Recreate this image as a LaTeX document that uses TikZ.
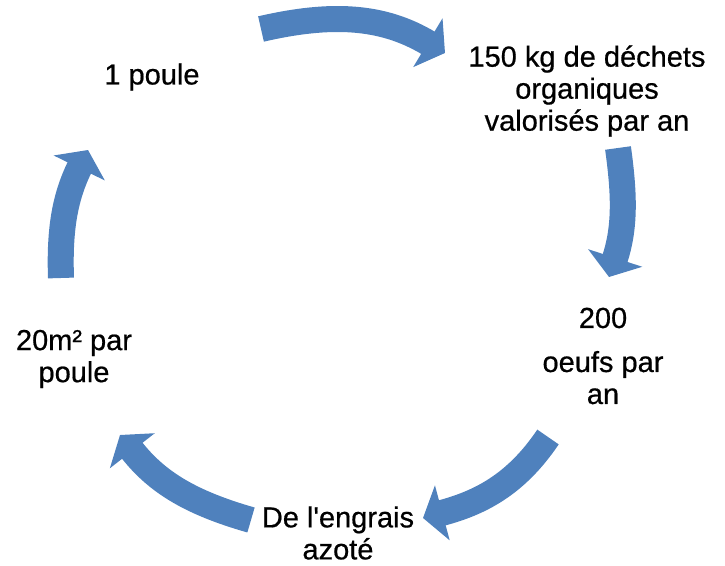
\documentclass[tikz,border=0pt]{standalone}
\usepackage{fontspec}
\setmainfont{Liberation Sans}[FakeBold=0.6]
\newfontfamily\stagefont{Liberation Sans}[FakeBold=0.6]
\usetikzlibrary{arrows.meta}
\definecolor{cycleblue}{RGB}{79,129,189}
\begin{document}
\begin{tikzpicture}[x=1pt,y=1pt,font=\stagefont\fontsize{29}{32}\selectfont,
        stagetext/.style={align=center,inner sep=0pt},
        cyclearrow/.style={line width=26pt,draw=cycleblue,-{Triangle[width=56pt,length=20pt,fill=cycleblue]}}]
        \useasboundingbox (0,0) rectangle (725,565);

        \node[stagetext] (poule) at (152,488) {1 poule};
        \node[stagetext] (dechets) at (587,474) {150 kg de déchets\\organiques\\valorisés par an};
        \node[stagetext] (oeufs) at (603,209) {200\\[12pt]oeufs par\\an};
        \node[stagetext] (engrais) at (338,32) {De l\textquotesingle engrais\\azoté};
        \node[stagetext] (surface) at (74,206) {20m² par\\poule};

        \coordinate (a1) at (261,536);  \coordinate (b1) at (445,512);
        \coordinate (a2) at (618,417);  \coordinate (b2) at (609,288);
        \coordinate (a3) at (548,128);  \coordinate (b3) at (423,47);
        \coordinate (a4) at (251,45);   \coordinate (b4) at (120,130);
        \coordinate (a5) at (61,287);   \coordinate (b5) at (88,415);

        \draw[cyclearrow] (a1) to[out=13,in=149] (b1);
        \draw[cyclearrow] (a2) to[out=-82,in=72] (b2);
        \draw[cyclearrow] (a3) to[out=-124,in=15] (b3);
        \draw[cyclearrow] (a4) to[out=164,in=-52] (b4);
        \draw[cyclearrow] (a5) to[out=92,in=-116] (b5);
    \end{tikzpicture}
\end{document}
